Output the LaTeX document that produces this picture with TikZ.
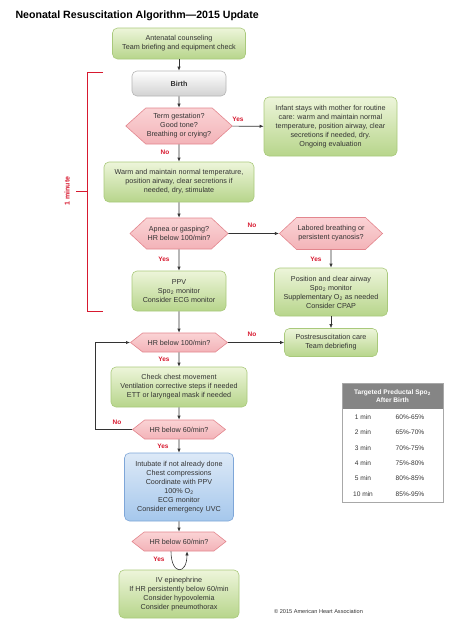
\documentclass[tikz,border=0pt]{standalone}
\usepackage{fontspec}
\setmainfont{Liberation Sans}
\usetikzlibrary{arrows.meta,shapes.symbols}

\definecolor{textgray}{HTML}{333333}
\definecolor{greenline}{HTML}{A9C97B}
\definecolor{greentop}{HTML}{EDF5DA}
\definecolor{greenbottom}{HTML}{B7D58B}
\definecolor{grayline}{HTML}{B5B5B5}
\definecolor{graybottom}{HTML}{D2D2D2}
\definecolor{blueline}{HTML}{7EA6D8}
\definecolor{bluetop}{HTML}{DDE9F7}
\definecolor{bluebottom}{HTML}{A5C7EC}
\definecolor{pinkline}{HTML}{E3868E}
\definecolor{pinktop}{HTML}{FAD3D5}
\definecolor{pinkbottom}{HTML}{F3B3B8}
\definecolor{alertred}{HTML}{D7192F}
\definecolor{tablegray}{HTML}{858585}
\definecolor{tableline}{HTML}{A8A8A8}

\newcommand\flowfont{\fontsize{7.2}{9}\selectfont}
\newcommand\tablefont{\fontsize{6.6}{8.5}\selectfont}

\begin{document}
\begin{tikzpicture}[
    x=1pt, y=-1pt,
    % Define Styles
    box/.style={
        rounded corners=5pt,
        line width=0.6pt,
        align=center,
        inner sep=1pt,
        text=textgray,
        font=\flowfont
    },
    greenbox/.style={
        box,
        draw=greenline,
        top color=greentop,
        bottom color=greenbottom
    },
    graybox/.style={
        box,
        draw=grayline,
        top color=white,
        bottom color=graybottom
    },
    bluebox/.style={
        box,
        draw=blueline,
        top color=bluetop,
        bottom color=bluebottom
    },
    decision/.style={
        shape=signal,
        signal to=west and east,
        line width=0.6pt,
        draw=pinkline,
        top color=pinktop,
        bottom color=pinkbottom,
        align=center,
        inner sep=1pt,
        text=textgray,
        font=\flowfont
    },
    flow/.style={
        draw=textgray,
        line width=0.6pt,
        -{Latex[length=4pt,width=3.2pt]}
    },
    answer/.style={
        text=alertred,
        font=\fontsize{6.5}{8}\selectfont\bfseries
    },
    bracket/.style={
        draw=alertred,
        line width=0.8pt
    },
    cell/.style={
        text=textgray,
        font=\tablefont
    }
    ]

    \useasboundingbox (0,0) rectangle (474,640);

    % Title
    \node[anchor=west, text=black, font=\fontsize{10.6}{12}\selectfont\bfseries]
        (title) at (12,16) {Neonatal Resuscitation Algorithm—2015 Update};

    % Main column
    \node[greenbox, minimum width=133pt, minimum height=31pt] (antenatal) at (179,43.5)
        {Antenatal counseling\\Team briefing and equipment check};
    \node[graybox, minimum width=94pt, minimum height=25pt, font=\flowfont\bfseries] (birth) at (179,83.5)
        {Birth};
    \node[decision, minimum width=96pt, minimum height=36pt, signal pointer angle=84] (term) at (179,126)
        {Term gestation?\\Good tone?\\Breathing or crying?};
    \node[greenbox, minimum width=150pt, minimum height=40pt] (warm) at (179,182)
        {Warm and maintain normal temperature,\\position airway, clear secretions if\\needed, dry, stimulate};
    \node[decision, minimum width=96pt, minimum height=31pt, signal pointer angle=86] (apnea) at (179,233.5)
        {Apnea or gasping?\\HR below 100/min?};
    \node[greenbox, minimum width=94pt, minimum height=40pt] (ppv) at (179,291)
        {PPV\\Spo\textsubscript{2} monitor\\Consider ECG monitor};
    \node[decision, minimum width=97pt, minimum height=19pt, signal pointer angle=76] (hra) at (179,342.5)
        {HR below 100/min?};
    \node[greenbox, minimum width=136pt, minimum height=40pt] (chest) at (179,387)
        {Check chest movement\\Ventilation corrective steps if needed\\ETT or laryngeal mask if needed};
    \node[decision, minimum width=93pt, minimum height=19pt, signal pointer angle=76] (hrb) at (179,429.5)
        {HR below 60/min?};
    \node[bluebox, minimum width=109pt, minimum height=68pt] (intubate) at (179,487)
        {Intubate if not already done\\Chest compressions\\Coordinate with PPV\\100\% O\textsubscript{2}\\ECG monitor\\Consider emergency UVC};
    \node[decision, minimum width=94pt, minimum height=19pt, signal pointer angle=76] (hrc) at (179,541.5)
        {HR below 60/min?};
    \node[greenbox, minimum width=120pt, minimum height=48pt] (epi) at (179,594)
        {IV epinephrine\\If HR persistently below 60/min\\Consider hypovolemia\\Consider pneumothorax};

    % Right column
    \node[greenbox, minimum width=133pt, minimum height=59pt] (routine) at (330.5,126.5)
        {Infant stays with mother for routine\\care: warm and maintain normal\\temperature, position airway, clear\\secretions if needed, dry.\\Ongoing evaluation};
    \node[decision, minimum width=102pt, minimum height=32pt, signal pointer angle=86] (labored) at (331,233.5)
        {Labored breathing or\\persistent cyanosis?};
    \node[greenbox, minimum width=113pt, minimum height=48pt] (position) at (331,292)
        {Position and clear airway\\Spo\textsubscript{2} monitor\\Supplementary O\textsubscript{2} as needed\\Consider CPAP};
    \node[greenbox, minimum width=93pt, minimum height=28pt] (postcare) at (331,342.5)
        {Postresuscitation care\\Team debriefing};

    % Connectors
    \draw[flow] (antenatal) -- (birth);
    \draw[flow] (birth) -- (term);
    \draw[flow] (term) -- (routine);
    \draw[flow] (term) -- (warm);
    \draw[flow] (warm) -- (apnea);
    \draw[flow] (apnea) -- (labored);
    \draw[flow] (apnea) -- (ppv);
    \draw[flow] (labored) -- (position);
    \draw[flow] (position) -- (postcare);
    \draw[flow] (ppv) -- (hra);
    \draw[flow] (hra) -- (postcare);
    \draw[flow] (hra) -- (chest);
    \draw[flow] (chest) -- (hrb);
    \draw[flow] (hrb) -- (intubate);
    \draw[flow] (intubate) -- (hrc);
    \coordinate (loopx) at (95,400);
    \draw[flow] (hrb.west) -- (hrb.west -| loopx) |- (hra.west);
    \draw[flow] ([xshift=-8pt]hrc.south) .. controls +(0,24) and +(0,24) .. ([xshift=8pt]hrc.south);

    % Answers
    \node[answer] (yesa) at (238,119) {Yes};
    \node[answer] (noa) at (165,152) {No};
    \node[answer] (nob) at (252,225) {No};
    \node[answer] (yesb) at (164,259) {Yes};
    \node[answer] (yesc) at (316,259) {Yes};
    \node[answer] (noc) at (252,334) {No};
    \node[answer] (yesd) at (164,359) {Yes};
    \node[answer] (nod) at (117,422) {No};
    \node[answer] (yese) at (163,446) {Yes};
    \node[answer] (yesf) at (159,559) {Yes};

    % One minute bracket
    \coordinate (btop) at (103,72);
    \coordinate (bbottom) at (103,311);
    \coordinate (bmid) at (76,191);
    \draw[bracket] (btop) -- (87,72) -- (87,311) -- (bbottom);
    \draw[bracket] (bmid) -- (87,191);
    \node[answer, rotate=90, font=\fontsize{7}{8}\selectfont\bfseries] (minute) at (67,191) {1 minute};

    % Spo2 table
    \fill[tablegray] (342,383) rectangle (443,409);
    \draw[tableline, line width=0.9pt] (342,383) rectangle (443,502);
    \node[align=center, text=white, font=\tablefont\bfseries] (thead) at (392.5,396)
        {Targeted Preductal Spo\textsubscript{2}\\After Birth};
    \foreach \t/\v/\y in {1 min/60\%-65\%/417, 2 min/65\%-70\%/432, 3 min/70\%-75\%/448,
                          4 min/75\%-80\%/463, 5 min/80\%-85\%/478, 10 min/85\%-95\%/494}
        {
        \node[cell] at (363,\y) {\t};
        \node[cell] at (410,\y) {\v};
        }

    % Copyright
    \node[text=textgray, font=\fontsize{5.6}{7}\selectfont] (copy) at (318.5,611)
        {© 2015 American Heart Association};

\end{tikzpicture}
\end{document}
